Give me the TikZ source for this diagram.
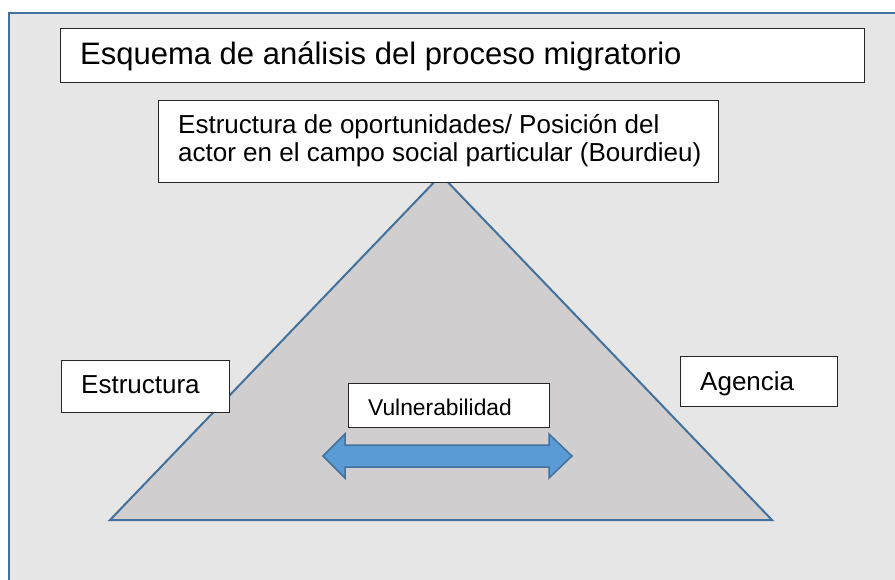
\documentclass[tikz,border=0pt]{standalone}
\usepackage{fontspec}
\setmainfont{Liberation Sans}
\definecolor{framebg}{HTML}{E6E6E6}
\definecolor{frameblue}{HTML}{41719C}
\definecolor{trifill}{HTML}{D0CECE}
\definecolor{arrowfill}{HTML}{5B9BD5}
\tikzset{
  whitebox/.style={draw=black!85, fill=white, line width=1.1pt, inner sep=0pt, anchor=north west},
  txt/.style={inner sep=0pt, anchor=base west, text=black},
}
\begin{document}
\begin{tikzpicture}[x=1pt,y=-1pt]
\useasboundingbox (0,0) rectangle (895,580);
\fill[white] (0,0) rectangle (895,580);
% frame
\fill[framebg] (9,13) rectangle (895,580);
\draw[frameblue, line width=2pt] (9,580) -- (9,13) -- (895,13);
% triangle
\draw[frameblue, fill=trifill, line width=2pt, line join=miter] (441,175) -- (772,520) -- (110,520) -- cycle;
% title
\node[whitebox, minimum width=804pt, minimum height=54pt] (title) at (60,28) {};
\node[txt, font=\fontsize{31}{36}\selectfont] (titletxt) at (80,64.5) {Esquema de análisis del proceso migratorio};
% opportunity structure box
\node[whitebox, minimum width=560pt, minimum height=82pt] (top) at (158,100) {};
\node[txt, font=\fontsize{26}{30}\selectfont] (topa) at (178,134) {Estructura de oportunidades/ Posición del};
\node[txt, font=\fontsize{26}{30}\selectfont] (topb) at (178,161.5) {actor en el campo social particular (Bourdieu)};
% Estructura
\node[whitebox, minimum width=168pt, minimum height=52pt] (estr) at (61,360) {};
\node[txt, font=\fontsize{26}{30}\selectfont] (estrtxt) at (81,393) {Estructura};
% Agencia
\node[whitebox, minimum width=157pt, minimum height=50pt] (ag) at (680,356) {};
\node[txt, font=\fontsize{26}{30}\selectfont] (agtxt) at (700,390.7) {Agencia};
% Vulnerabilidad
\node[whitebox, minimum width=201pt, minimum height=44pt] (vul) at (348,383) {};
\node[txt, font=\fontsize{22.8}{27}\selectfont] (vultxt) at (368,415) {Vulnerabilidad};
% double arrow
\draw[frameblue, fill=arrowfill, line width=1.5pt, line join=miter]
  (323,456) -- (345,434) -- (345,445) -- (549,445) -- (549,434) -- (572,456)
  -- (549,478) -- (549,467) -- (345,467) -- (345,478) -- cycle;
\end{tikzpicture}
\end{document}
